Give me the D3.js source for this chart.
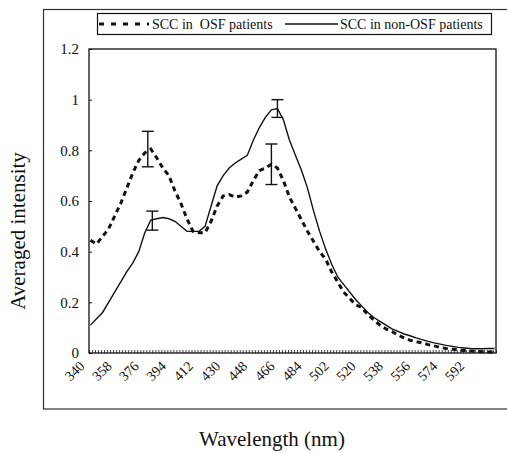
<!DOCTYPE html>
<html><head><meta charset="utf-8">
<script src="https://cdn.jsdelivr.net/npm/d3@7"></script>
<style>body{margin:0;background:#fff}svg{display:block}</style>
</head><body><svg id="c" width="507" height="453"></svg>
<script>
const wavelengths = [340,344,348,352,356,360,364,368,372,376,380,384,388,392,396,400,404,408,412,416,420,424,428,432,436,440,444,448,452,456,460,464,468,472,476,480,484,488,492,496,500,504,508,512,516,520,524,528,532,536,540,544,548,552,556,560,564,568,572,576,580,584,588,592,596,600,604,608];
const osf = [0.445,0.43,0.46,0.49,0.54,0.59,0.65,0.71,0.76,0.79,0.805,0.77,0.73,0.70,0.64,0.59,0.53,0.48,0.475,0.475,0.52,0.58,0.62,0.625,0.615,0.62,0.635,0.68,0.72,0.73,0.745,0.73,0.68,0.615,0.57,0.525,0.48,0.44,0.40,0.37,0.32,0.28,0.24,0.215,0.19,0.18,0.15,0.13,0.11,0.095,0.085,0.07,0.06,0.05,0.045,0.04,0.033,0.028,0.022,0.018,0.015,0.012,0.01,0.008,0.006,0.005,0.004,0.004];
const nonOsf = [0.11,0.135,0.16,0.20,0.24,0.28,0.32,0.355,0.40,0.475,0.525,0.53,0.535,0.53,0.52,0.50,0.48,0.48,0.48,0.50,0.58,0.66,0.70,0.73,0.75,0.765,0.78,0.84,0.89,0.93,0.96,0.965,0.92,0.84,0.78,0.72,0.65,0.56,0.48,0.41,0.35,0.30,0.27,0.24,0.21,0.185,0.16,0.14,0.125,0.11,0.095,0.085,0.075,0.068,0.06,0.053,0.046,0.04,0.035,0.03,0.026,0.022,0.02,0.018,0.017,0.017,0.018,0.018];
const osfErr = [{wl:378, mean:0.805, lo:0.735, hi:0.875},{wl:460, mean:0.745, lo:0.665, hi:0.825}];
const nonOsfErr = [{wl:381, mean:0.525, lo:0.485, hi:0.56},{wl:464, mean:0.965, lo:0.93, hi:1.0}];
const xTickLabels = [340,358,376,394,412,430,448,466,484,502,520,538,556,574,592];
const yTicks = [0,0.2,0.4,0.6,0.8,1,1.2];
const seriesNames = ["SCC in  OSF patients","SCC in non-OSF patients"];

const FONT = '"Liberation Serif","DejaVu Serif","Times New Roman",serif';
const svg = d3.select("#c");
const L=89, R=496, T=49, B=353;
const x = d3.scaleLinear().domain([339,609]).range([L,R]);
const y = d3.scaleLinear().domain([0,1.2]).range([B,T]);

// outer frame (right edge runs past the canvas)
svg.append("rect").attr("x",43.5).attr("y",9.5).attr("width",480).attr("height",399.5)
  .attr("fill","none").attr("stroke","#333").attr("stroke-width",1.2);

// plot area
svg.append("rect").attr("x",L).attr("y",T).attr("width",R-L).attr("height",B-T)
  .attr("fill","none").attr("stroke","#111").attr("stroke-width",1.3);

// y axis
const ya = svg.append("g").attr("transform",`translate(${L},0)`)
  .call(d3.axisLeft(y).tickValues(yTicks).tickSize(-3).tickPadding(10).tickFormat(d=>d3.format("~g")(d)));
ya.select(".domain").remove();
ya.selectAll("line").attr("stroke","#111");
ya.selectAll("text").style("font-family",FONT).style("font-size","15px").style("fill","#111");

// x minor ticks (every category boundary)
const minor = d3.range(339,610,2);
svg.append("g").attr("transform",`translate(0,${B})`)
  .call(d3.axisBottom(x).tickValues(minor).tickSize(-3).tickFormat(""))
  .call(g=>{g.select(".domain").remove();g.selectAll("line").attr("stroke","#111").attr("stroke-width",0.8);});

// x labels
svg.append("g").selectAll("text").data(xTickLabels).join("text")
  .attr("transform",d=>`translate(${x(d)-12},${B+7}) rotate(-45)`)
  .attr("text-anchor","end").attr("dy","0.7em")
  .style("font-family",FONT).style("font-size","14px").style("fill","#111").text(d=>d);

const line = d3.line().x((d,i)=>x(wavelengths[i])).y(d=>y(d)).curve(d3.curveLinear);
svg.append("path").datum(nonOsf).attr("d",line).attr("fill","none").attr("stroke","#111").attr("stroke-width",1.4);
svg.append("path").datum(osf).attr("d",line).attr("fill","none").attr("stroke","#111").attr("stroke-width",3).attr("stroke-dasharray","5,4");

function errBars(data, w){
  const g = svg.append("g").attr("stroke","#111").attr("stroke-width",1.4);
  data.forEach(e=>{
    g.append("line").attr("x1",x(e.wl)).attr("x2",x(e.wl)).attr("y1",y(e.lo)).attr("y2",y(e.hi));
    g.append("line").attr("x1",x(e.wl)-w).attr("x2",x(e.wl)+w).attr("y1",y(e.lo)).attr("y2",y(e.lo));
    g.append("line").attr("x1",x(e.wl)-w).attr("x2",x(e.wl)+w).attr("y1",y(e.hi)).attr("y2",y(e.hi));
  });
}
errBars(osfErr,6);
errBars(nonOsfErr,6);

// legend
const lg = svg.append("g");
lg.append("rect").attr("x",97.5).attr("y",13.5).attr("width",394).attr("height",21).attr("fill","#fff").attr("stroke","#111").attr("stroke-width",1.2);
lg.append("line").attr("x1",99).attr("x2",149).attr("y1",24).attr("y2",24).attr("stroke","#111").attr("stroke-width",3).attr("stroke-dasharray","5,7");
lg.append("text").attr("x",152).attr("y",29).attr("xml:space","preserve").style("white-space","pre")
  .style("font-family",FONT).style("font-size","14px").style("fill","#111").text(seriesNames[0]);
lg.append("line").attr("x1",285).attr("x2",338).attr("y1",24).attr("y2",24).attr("stroke","#111").attr("stroke-width",1.3);
lg.append("text").attr("x",340).attr("y",29)
  .style("font-family",FONT).style("font-size","14px").style("fill","#111").text(seriesNames[1]);

// axis titles
svg.append("text").attr("transform","translate(25,231) rotate(-90)").attr("text-anchor","middle")
  .style("font-family",FONT).style("font-size","21px").style("fill","#111").text("Averaged intensity");
svg.append("text").attr("x",272).attr("y",446).attr("text-anchor","middle")
  .style("font-family",FONT).style("font-size","21px").style("fill","#111").text("Wavelength (nm)");
</script></body></html>
